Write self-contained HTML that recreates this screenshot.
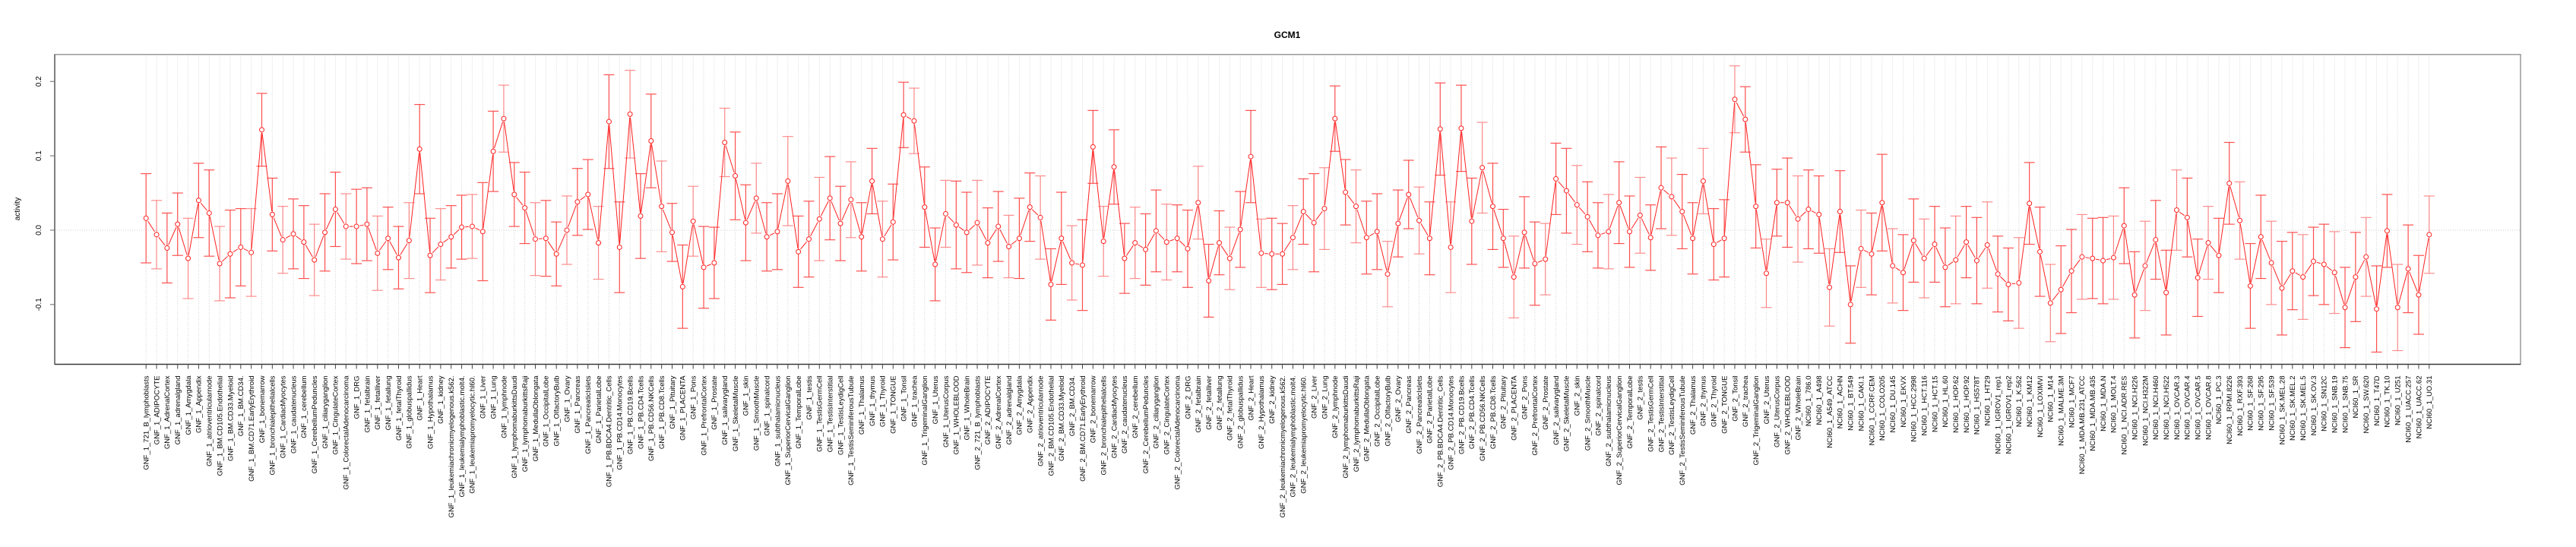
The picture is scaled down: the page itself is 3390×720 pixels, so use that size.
<!DOCTYPE html>
<html>
<head>
<meta charset="utf-8">
<style>
  html,body{margin:0;padding:0;background:#fff;}
  svg{display:block;font-family:"Liberation Sans",Arial,sans-serif;}
</style>
</head>
<body>
<svg id="chart" width="3390" height="720" viewBox="0 0 3390 720" xmlns="http://www.w3.org/2000/svg">
  <rect x="0" y="0" width="3390" height="720" fill="#fff"/>
  <text x="1694" y="50" text-anchor="middle" font-size="12" font-weight="bold">GCM1</text>
  <text transform="translate(26,275) rotate(-90)" text-anchor="middle" font-size="10">activity</text>
  <g id="grid"></g>
  <g id="yaxis"></g>
  <g id="xaxis"></g>
  <g id="series"></g>
  <rect x="72" y="71.7" width="3245" height="407.8" fill="none" stroke="#999" stroke-width="1.5"/>
  <line x1="72" y1="71.7" x2="72" y2="479.5" stroke="#666" stroke-width="1.5"/>
  <line x1="72" y1="479.5" x2="3317" y2="479.5" stroke="#333" stroke-width="1.2"/>
</svg>
<script>
const tissues = ["721_B_lymphoblasts","ADIPOCYTE","AdrenalCortex","adrenalgland","Amygdala","Appendix","atrioventricularnode","BM.CD105.Endothelial","BM.CD33.Myeloid","BM.CD34.","BM.CD71.EarlyErythroid","bonemarrow","bronchialepithelialcells","CardiacMyocytes","caudatenucleus","cerebellum","CerebellumPeduncles","ciliaryganglion","CingulateCortex","ColorectalAdenocarcinoma","DRG","fetalbrain","fetalliver","fetallung","fetalThyroid","globuspallidus","Heart","Hypothalamus","kidney","leukemiachronicmyelogenous.k562.","leukemialymphoblastic.molt4.","leukemiapromyelocytic.hl60.","Liver","Lung","lymphnode","lymphomaburkittsDaudi","lymphomaburkittsRaji","MedullaOblongata","OccipitalLobe","OlfactoryBulb","Ovary","Pancreas","PancreaticIslets","ParietalLobe","PB.BDCA4.Dentritic_Cells","PB.CD14.Monocytes","PB.CD19.Bcells","PB.CD4.Tcells","PB.CD56.NKCells","PB.CD8.Tcells","Pituitary","PLACENTA","Pons","PrefrontalCortex","Prostate","salivarygland","SkeletalMuscle","skin","SmoothMuscle","spinalcord","subthalamicnucleus","SuperiorCervicalGanglion","TemporalLobe","testis","TestisGermCell","TestisInterstitial","TestisLeydigCell","TestisSeminiferousTubule","Thalamus","thymus","Thyroid","TONGUE","Tonsil","trachea","TrigeminalGanglion","Uterus","UterusCorpus","WHOLEBLOOD","WholeBrain"];
const nciLines = ["786.0","A498","A549_ATCC","ACHN","BT.549","CAKI.1","CCRF.CEM","COLO205","DU.145","EKVX","HCC.2998","HCT.116","HCT.15","HL.60","HOP.62","HOP.92","HS578T","HT29","IGROV1_rep1","IGROV1_rep2","K.562","KM12","LOXIMVI","M14","MALME.3M","MCF7","MDA.MB.231_ATCC","MDA.MB.435","MDA.N","MOLT.4","NCI.ADR.RES","NCI.H226","NCI.H322M","NCI.H460","NCI.H522","OVCAR.3","OVCAR.4","OVCAR.5","OVCAR.8","PC.3","RPMI.8226","RXF.393","SF.268","SF.295","SF.539","SK.MEL.28","SK.MEL.2","SK.MEL.5","SK.OV.3","SN12C","SNB.19","SNB.75","SR","SW.620","T47D","TK.10","U251","UACC.257","UACC.62","UO.31"];
const categories = tissues.map(t => "GNF_1_" + t).concat(tissues.map(t => "GNF_2_" + t)).concat(nciLines.map(t => "NCI60_1_" + t));

const activity = [
0.016,-0.006,-0.024,0.008,-0.038,0.040,0.023,-0.045,-0.032,-0.023,
-0.030,0.135,0.021,-0.013,-0.005,-0.016,-0.040,-0.003,0.028,0.005,
0.005,0.008,-0.031,-0.011,-0.037,-0.014,0.109,-0.034,-0.019,-0.009,
0.004,0.005,-0.002,0.106,0.150,0.048,0.030,-0.012,-0.011,-0.032,
0.000,0.038,0.048,-0.017,0.146,-0.023,0.156,0.019,0.120,0.032,
-0.003,-0.076,0.012,-0.050,-0.044,0.118,0.073,0.010,0.043,-0.009,
-0.002,0.066,-0.029,-0.012,0.015,0.043,0.009,0.041,-0.009,0.066,
-0.012,0.011,0.155,0.147,0.031,-0.046,0.022,0.007,-0.003,0.010,
-0.017,0.005,-0.022,-0.011,0.031,0.017,-0.073,-0.011,-0.044,-0.047,
0.112,-0.015,0.085,-0.038,-0.017,-0.026,-0.001,-0.016,-0.011,-0.025,
0.037,-0.068,-0.017,-0.038,0.001,0.099,-0.031,-0.032,-0.032,-0.010,
0.025,0.010,0.029,0.150,0.051,0.032,-0.010,-0.002,-0.059,0.009,
0.048,0.013,-0.011,0.136,-0.023,0.137,0.012,0.084,0.032,-0.011,
-0.063,-0.003,-0.045,-0.039,0.069,0.053,0.034,0.018,-0.007,-0.002,
0.037,-0.002,0.020,-0.010,0.057,0.045,0.025,-0.011,0.066,-0.019,
-0.011,0.176,0.149,0.032,-0.058,0.037,0.037,0.015,0.028,0.021,
-0.077,0.025,-0.100,-0.025,-0.032,0.037,-0.048,-0.057,-0.014,-0.038,
-0.019,-0.050,-0.040,-0.016,-0.041,-0.020,-0.059,-0.073,-0.071,0.036,
-0.029,-0.098,-0.080,-0.055,-0.036,-0.038,-0.041,-0.037,0.006,-0.087,
-0.048,-0.013,-0.084,0.027,0.017,-0.064,-0.017,-0.034,0.063,0.013,
-0.075,-0.009,-0.044,-0.078,-0.055,-0.063,-0.042,-0.046,-0.057,-0.104,
-0.063,-0.036,-0.106,-0.001,-0.104,-0.052,-0.087,-0.006];

const errorHalf = [
0.060,0.046,0.047,0.042,0.054,0.050,0.058,0.050,0.059,0.052,
0.059,0.049,0.049,0.045,0.047,0.049,0.048,0.052,0.050,0.044,
0.050,0.049,0.050,0.042,0.042,0.051,0.060,0.050,0.048,0.042,
0.043,0.043,0.066,0.054,0.045,0.043,0.048,0.049,0.051,0.043,
0.046,0.045,0.047,0.049,0.063,0.061,0.059,0.057,0.063,0.061,
0.039,0.056,0.047,0.055,0.048,0.046,0.059,0.051,0.047,0.046,
0.051,0.060,0.048,0.051,0.056,0.056,0.050,0.051,0.046,0.044,
0.051,0.051,0.044,0.044,0.054,0.049,0.045,0.059,0.054,0.057,
0.047,0.047,0.042,0.054,0.046,0.056,0.048,0.062,0.050,0.061,
0.049,0.047,0.050,0.047,0.048,0.048,0.055,0.051,0.045,0.052,
0.049,0.049,0.043,0.042,0.051,0.062,0.046,0.048,0.041,0.043,
0.044,0.066,0.055,0.044,0.044,0.049,0.049,0.051,0.044,0.045,
0.046,0.045,0.049,0.062,0.061,0.058,0.058,0.061,0.058,0.039,
0.055,0.048,0.056,0.048,0.048,0.057,0.053,0.047,0.044,0.050,
0.055,0.048,0.051,0.044,0.055,0.052,0.050,0.048,0.044,0.048,
0.052,0.045,0.044,0.056,0.046,0.045,0.060,0.058,0.053,0.052,
0.052,0.055,0.052,0.052,0.055,0.065,0.050,0.051,0.056,0.053,
0.051,0.053,0.059,0.048,0.058,0.058,0.051,0.049,0.061,0.055,
0.060,0.052,0.059,0.056,0.057,0.054,0.058,0.056,0.051,0.058,
0.060,0.053,0.057,0.054,0.053,0.052,0.049,0.050,0.055,0.052,
0.057,0.056,0.056,0.063,0.052,0.057,0.046,0.054,0.055,0.054,
0.060,0.053,0.058,0.049,0.058,0.059,0.053,0.052];

const yTicks = [-0.1, 0.0, 0.1, 0.2];
const yTickLabels = ["-0.1", "0.0", "0.1", "0.2"];

const NS = "http://www.w3.org/2000/svg";
const plotL = 72, plotR = 3317, plotT = 71.7, plotB = 479.5;
const n = categories.length;
const padX = 0.04 * (n - 1);
const xMin = 1 - padX, xMax = n + padX;
const yMin = -0.1804, yMax = 0.2363;
function xScale(i) { return plotL + ((i + 1) - xMin) / (xMax - xMin) * (plotR - plotL); }
function yScale(v) { return plotB - (v - yMin) / (yMax - yMin) * (plotB - plotT); }
function mk(tag, attrs, parent) {
  const e = document.createElementNS(NS, tag);
  for (const k in attrs) e.setAttribute(k, attrs[k]);
  parent.appendChild(e);
  return e;
}

const grid = document.getElementById("grid");
const yaxis = document.getElementById("yaxis");
const xaxis = document.getElementById("xaxis");
const series = document.getElementById("series");

const zl = mk("line", {x1: plotL, x2: plotR, y1: yScale(0), y2: yScale(0), stroke: "#ccc", "stroke-width": 1, "stroke-dasharray": "1,2"}, grid);



yTicks.forEach((t, k) => {
  const y = yScale(t);
  const tl = mk("line", {x1: plotL - 6, x2: plotL, y1: y, y2: y, stroke: "#666", "stroke-width": 1}, yaxis);
  
  
  const tx = mk("text", {transform: "translate(54," + y + ") rotate(-90)", "text-anchor": "middle", "font-size": 10}, yaxis);
  tx.textContent = yTickLabels[k];
  
  
});

categories.forEach((c, i) => {
  const x = xScale(i);
  const g = mk("line", {x1: x, x2: x, y1: plotT, y2: plotB, stroke: "#d0d0d0", "stroke-width": 1, "stroke-dasharray": "1,2"}, grid);
  
  
  const tk = mk("line", {x1: x, x2: x, y1: plotB, y2: plotB + 6, stroke: "#444", "stroke-width": 1}, xaxis);
  
  
  const lb = mk("text", {transform: "translate(" + (x + 3.3) + "," + (plotB + 15) + ") rotate(-90)", "text-anchor": "end", "font-size": 9.5}, xaxis);
  lb.textContent = c;
  
  
});

const r = 3;
for (let i = 0; i < n - 1; i++) {
  const x1 = xScale(i), y1 = yScale(activity[i]);
  const x2 = xScale(i + 1), y2 = yScale(activity[i + 1]);
  const dx = x2 - x1, dy = y2 - y1, len = Math.hypot(dx, dy);
  const g = r + 1.5;
  if (len > 2 * g) {
    const ux = dx / len, uy = dy / len;
    const seg = mk("line", {x1: x1 + ux * g, y1: y1 + uy * g, x2: x2 - ux * g, y2: y2 - uy * g, stroke: "#ff2020", "stroke-width": 1}, series);
    
    
  }
}

categories.forEach((c, i) => {
  const x = xScale(i);
  const yc = yScale(activity[i]);
  const yu = yScale(activity[i] + errorHalf[i]);
  const yl = yScale(activity[i] - errorHalf[i]);
  const eb = mk("g", {stroke: "#ff3333", "stroke-width": 1.2, opacity: (i % 3 === 1 ? 0.55 : 0.85)}, series);
  
  
  mk("line", {x1: x, x2: x, y1: yu, y2: yl}, eb);
  mk("line", {x1: x - 7, x2: x + 7, y1: yu, y2: yu}, eb);
  mk("line", {x1: x - 7, x2: x + 7, y1: yl, y2: yl}, eb);
  const pt = mk("circle", {cx: x, cy: yc, r: r, fill: "#fff", stroke: "#ff2020", "stroke-width": 1}, series);
  
  
});
</script>
</body>
</html>
